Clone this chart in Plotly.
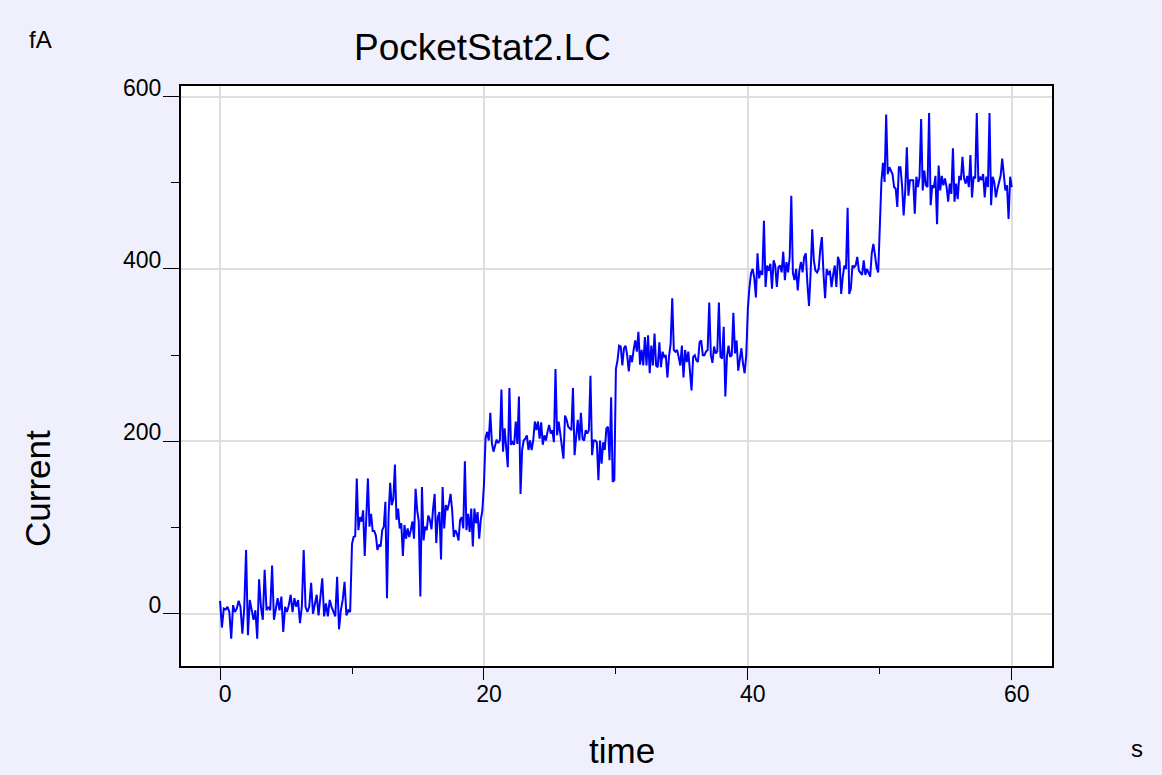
import numpy as np
import plotly.graph_objects as go

# ---------------- data ----------------
segment_starts = [0, 10, 20, 30, 40, 50]
segment_length = 10.0

seg0_values = [15, -16, 6, 5, 8, 2, -29, 10, 2, 6, 15, 8, -23, 6, 74, -25, 16, 2, -7, 4,
               -29, 40, 8, -7, 51, 4, 8, 4, 56, -7, 8, 18, 4, 20, -21, 8, 2, 10, 22, 2,
               18, 8, 16, -11, 8, 74, 8, 2, 8, 36, 0, 10, 22, -2, 24, 41, -3, 12, -3, 16,
               8, 2, -3, 43, -18, 4, 16, 37, -2, 4, 2]
seg1_values = [81, 89, 90, 157, 97, 112, 107, 120, 67, 114, 157, 101, 116, 96, 96, 91, 74, 80,
               78, 97, 101, 130, 18, 114, 152, 126, 133, 173, 109, 122, 99, 105, 67, 103, 87,
               99, 89, 97, 107, 87, 145, 120, 107, 20, 147, 85, 101, 97, 114, 109, 98, 122,
               139, 82, 112, 118, 63, 147, 99, 126, 120, 128, 139, 120, 89, 97, 93, 85, 109,
               112, 99, 177, 97, 116, 95, 122, 78, 122, 105, 118, 87, 109, 120]
seg2_values = [150, 204, 211, 201, 233, 198, 188, 196, 202, 198, 201, 260, 188, 215, 194, 170,
               262, 196, 199, 196, 223, 197, 252, 139, 190, 201, 203, 207, 190, 201, 190, 201,
               223, 213, 223, 203, 222, 196, 207, 201, 211, 219, 209, 213, 199, 284, 207, 223,
               209, 194, 180, 230, 225, 217, 215, 213, 262, 184, 205, 225, 201, 233, 203, 201,
               213, 209, 213, 276, 184, 201, 201, 199, 155, 201, 174, 199, 190, 215, 217, 178,
               251, 153, 155]
seg3_values = [284, 294, 311, 310, 288, 308, 311, 300, 281, 300, 292, 306, 317, 304, 327, 289,
               306, 288, 321, 288, 323, 279, 311, 288, 325, 288, 286, 315, 286, 304, 298, 300,
               274, 298, 313, 366, 306, 304, 306, 298, 288, 311, 274, 306, 292, 304, 284, 259,
               298, 300, 294, 292, 315, 317, 300, 300, 304, 306, 361, 300, 291, 310, 302, 304,
               361, 298, 296, 333, 252, 298, 311, 298, 300, 349, 302, 317, 282, 298, 308, 290,
               279, 300]
seg4_values = [354, 379, 395, 400, 389, 367, 418, 389, 398, 393, 456, 379, 404, 398, 406, 377,
               410, 404, 379, 402, 404, 396, 420, 387, 408, 396, 414, 485, 395, 387, 400, 375,
               398, 408, 396, 414, 418, 383, 357, 395, 446, 410, 398, 396, 400, 423, 437, 395,
               366, 400, 393, 398, 379, 393, 404, 379, 414, 408, 371, 391, 404, 400, 471, 371,
               377, 404, 402, 404, 414, 398, 396, 393, 410, 393, 400, 395, 391, 418, 429, 416,
               402, 396]
seg5_values = [452, 501, 523, 501, 579, 510, 518, 513, 510, 495, 493, 472, 518, 518, 497, 462,
               491, 541, 485, 503, 503, 503, 464, 507, 495, 507, 574, 491, 514, 497, 495, 581,
               474, 497, 494, 508, 452, 520, 491, 508, 497, 505, 495, 478, 499, 487, 540, 478,
               499, 481, 508, 503, 530, 505, 499, 508, 495, 532, 483, 507, 505, 581, 501, 507,
               503, 510, 483, 507, 495, 581, 474, 507, 501, 483, 493, 501, 508, 528, 510, 491,
               497, 458, 507, 495]
segments = [seg0_values, seg1_values, seg2_values, seg3_values, seg4_values, seg5_values]

title_text = "PocketStat2.LC"
x_title = "time"
y_title = "Current"
x_unit = "s"
y_unit = "fA"

x_major = [0, 20, 40, 60]
x_minor = [10, 30, 50]
y_major = [0, 200, 400, 600]
y_minor = [100, 300, 500]

# ---------------- build series ----------------
times, values = [], []
for i, (start, vals) in enumerate(zip(segment_starts, segments)):
    n = len(vals)
    if i == len(segments) - 1:
        t = np.linspace(start, start + segment_length, n)
    else:
        t = start + segment_length * np.arange(n) / n
    times.extend(t.tolist())
    values.extend(vals)

# ---------------- layout geometry ----------------
W, H = 1162, 775
L, R, T, B = 181, 1052, 86, 666
xr = [-2.96, 63.05]
yr = [-60.6, 612.2]


def px_x(px):
    return (px - L) / (R - L)


def px_y(py):
    return (B - py) / (B - T)


FONT = "Arial, Liberation Sans, sans-serif"

fig = go.Figure()
fig.add_trace(go.Scatter(x=times, y=values, mode="lines",
                         line=dict(color="#0000ff", width=2), showlegend=False,
                         hoverinfo="skip"))

axis_common = dict(showline=True, linecolor="black", linewidth=2, mirror=True,
                   ticks="outside", tickcolor="black", tickwidth=1.3,
                   showgrid=True, gridcolor="#dedede", gridwidth=1.5, zeroline=False,
                   tickfont=dict(family=FONT, size=23, color="black"))

fig.update_xaxes(range=xr, tickmode="array", tickvals=x_major,
                 ticktext=[str(v) for v in x_major], ticklen=12,
                 ticklabelshift=5, ticklabelstandoff=-6,
                 minor=dict(tickmode="array", tickvals=x_minor, ticklen=6,
                            ticks="outside", tickcolor="black", tickwidth=1.3,
                            showgrid=False),
                 **axis_common)
fig.update_yaxes(range=yr, tickmode="array", tickvals=y_major,
                 ticktext=[str(v) for v in y_major], ticklen=16,
                 ticklabelshift=-9, ticklabelstandoff=-3,
                 minor=dict(tickmode="array", tickvals=y_minor, ticklen=8,
                            ticks="outside", tickcolor="black", tickwidth=1.3,
                            showgrid=False),
                 **axis_common)

annotations = [
    dict(text=title_text, x=px_x(482.5), y=px_y(47), size=37),
    dict(text=x_title, x=px_x(621.5), y=px_y(750), size=35),
    dict(text=y_unit, x=px_x(40.5), y=px_y(40), size=24),
    dict(text=x_unit, x=px_x(1137), y=px_y(748), size=24),
]
anns = []
for a in annotations:
    anns.append(dict(text=a["text"], x=a["x"], y=a["y"], xref="paper", yref="paper",
                     xanchor="center", yanchor="middle", showarrow=False,
                     font=dict(family=FONT, size=a["size"], color="black")))
anns.append(dict(text=y_title, x=px_x(37), y=px_y(489), xref="paper", yref="paper",
                 xanchor="center", yanchor="middle", showarrow=False, textangle=-90,
                 font=dict(family=FONT, size=35, color="black")))

fig.update_layout(width=W, height=H, autosize=False,
                  margin=dict(l=L, r=W - R, t=T, b=H - B, pad=0),
                  paper_bgcolor="#f0f0fc", plot_bgcolor="white",
                  annotations=anns, showlegend=False)

fig.write_html("out.html", config={"displayModeBar": False},
               post_script="document.body.style.margin='0px';document.body.style.overflow='hidden';")
